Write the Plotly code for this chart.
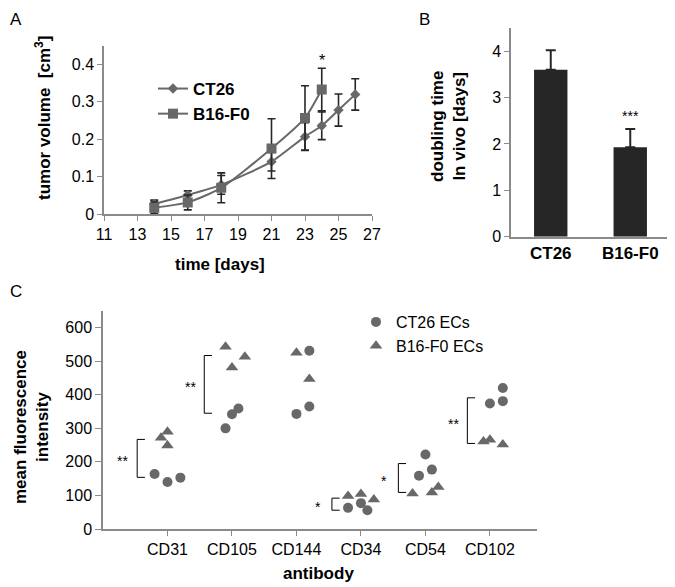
import plotly.graph_objects as go

# ---------------- data ----------------
# Panel A: tumor growth
days_ct26 = [14, 16, 18, 21, 23, 24, 25, 26]
vol_ct26 = [0.027, 0.051, 0.078, 0.14, 0.207, 0.236, 0.278, 0.32]
err_ct26 = [0.010, 0.011, 0.025, 0.025, 0.037, 0.037, 0.043, 0.042]
days_b16 = [14, 16, 18, 21, 23, 24]
vol_b16 = [0.017, 0.031, 0.07, 0.175, 0.257, 0.333]
err_b16 = [0.015, 0.02, 0.04, 0.08, 0.086, 0.057]
a_xticks = [11, 13, 15, 17, 19, 21, 23, 25, 27]
a_yticks = [0, 0.1, 0.2, 0.3, 0.4]
a_yticklabels = ["0", "0.1", "0.2", "0.3", "0.4"]

# Panel B: doubling time
b_groups = ["CT26", "B16-F0"]
b_values = [3.6, 1.93]
b_errors = [0.42, 0.39]
b_yticks = [0, 1, 2, 3, 4]

# Panel C: mean fluorescence intensity
antibodies = ["CD31", "CD105", "CD144", "CD34", "CD54", "CD102"]
ct26_ab = [1, 1, 1, 2, 2, 2, 3, 3, 3, 4, 4, 4, 5, 5, 5, 6, 6, 6]
ct26_jit = [-0.2, 0, 0.2, -0.1, 0, 0.1, 0, 0.2, 0.2, -0.2, 0, 0.1, -0.1, 0, 0.1, 0, 0.2, 0.2]
ct26_mfi = [164, 140, 153, 300, 342, 359, 343, 365, 531, 63, 77, 56, 159, 222, 177, 374, 420, 381]
b16_ab = [1, 1, 1, 2, 2, 2, 3, 3, 4, 4, 4, 5, 5, 5, 6, 6, 6]
b16_jit = [-0.1, 0, 0, -0.1, 0, 0.2, 0, 0.2, -0.2, 0, 0.2, -0.2, 0.1, 0.2, -0.1, 0, 0.2]
b16_mfi = [272, 290, 249, 543, 481, 513, 525, 447, 98, 104, 88, 106, 109, 125, 261, 266, 252]
c_yticks = [0, 100, 200, 300, 400, 500, 600]
# significance brackets: antibody index, low, high, label
sig_ab = [1, 2, 4, 5, 6]
sig_low = [154, 345, 56, 109, 255]
sig_high = [267, 517, 92, 195, 391]
sig_label = ["**", "**", "*", "*", "**"]
sig_xoff = [-0.47, -0.43, -0.45, -0.42, -0.35]

# ---------------- styling ----------------
# the page body adds an 8 px margin, so the figure is 8 px smaller and
# all layout positions below are given in page pixels
BODY = 8
W, H = 675 - BODY, 587 - BODY
FONT = "Liberation Sans, Arial, sans-serif"
GRAY = "#686868"
AXIS = "#8a8a8a"
DARK = "#262626"


def px_x(p):
    return (p - BODY) / W


def px_y(p):
    return 1 - (p - BODY) / H


fig = go.Figure()

# Panel A traces
fig.add_trace(go.Scatter(
    x=days_ct26, y=vol_ct26, mode="lines+markers", name="CT26",
    line=dict(color=GRAY, width=2, shape="spline", smoothing=0.6),
    marker=dict(symbol="diamond", size=8, color=GRAY),
    error_y=dict(type="data", array=err_ct26, color=DARK, thickness=1.6, width=4),
    xaxis="x", yaxis="y", legend="legend"))
fig.add_trace(go.Scatter(
    x=days_b16, y=vol_b16, mode="lines+markers", name="B16-F0",
    line=dict(color=GRAY, width=2, shape="spline", smoothing=0.6),
    marker=dict(symbol="square", size=10, color=GRAY),
    error_y=dict(type="data", array=err_b16, color=DARK, thickness=1.6, width=4),
    xaxis="x", yaxis="y", legend="legend"))

# Panel B
fig.add_trace(go.Bar(
    x=b_groups, y=b_values, marker=dict(color=DARK, line=dict(width=0)),
    width=0.42, showlegend=False,
    error_y=dict(type="data", array=b_errors, arrayminus=[0] * len(b_errors),
                 color=DARK, thickness=2, width=5),
    xaxis="x2", yaxis="y2"))

# Panel C
fig.add_trace(go.Scatter(
    x=[a + j for a, j in zip(ct26_ab, ct26_jit)], y=ct26_mfi, mode="markers",
    name="CT26 ECs", marker=dict(symbol="circle", size=10, color=GRAY),
    xaxis="x3", yaxis="y3", legend="legend2"))
fig.add_trace(go.Scatter(
    x=[a + j for a, j in zip(b16_ab, b16_jit)], y=b16_mfi, mode="markers",
    name="B16-F0 ECs", marker=dict(symbol="triangle-up", size=11, color=GRAY),
    xaxis="x3", yaxis="y3", legend="legend2"))

tickfont = dict(family=FONT, size=16, color="black")
common = dict(showline=True, linecolor=AXIS, linewidth=1.5, ticks="outside",
              tickcolor=AXIS, ticklen=5, tickwidth=1.2, showgrid=False,
              zeroline=False, tickfont=tickfont, fixedrange=True, automargin=False)

shapes = []
annotations = []

# brackets
for a, lo, hi, lab, off in zip(sig_ab, sig_low, sig_high, sig_label, sig_xoff):
    xb = a + off
    tick = 0.12
    shapes.append(dict(type="path", xref="x3", yref="y3",
                       path=f"M {xb + tick} {hi} L {xb} {hi} L {xb} {lo} L {xb + tick} {lo}",
                       line=dict(color="black", width=1)))
    annotations.append(dict(x=xb - 0.22, y=(lo + hi) / 2, xref="x3", yref="y3",
                            text=lab, showarrow=False, xanchor="center", yanchor="middle",
                            yshift=-3, font=dict(family=FONT, size=14, color="black")))

# star annotations on A and B
annotations.append(dict(x=days_b16[-1], y=vol_b16[-1] + err_b16[-1], xref="x", yref="y",
                        text="*", showarrow=False, xanchor="center", yanchor="bottom",
                        yshift=-3, font=dict(family=FONT, size=16, color="black")))
annotations.append(dict(x=b_groups[1], y=b_values[1] + b_errors[1], xref="x2", yref="y2",
                        text="***", showarrow=False, xanchor="center", yanchor="bottom",
                        yshift=3, font=dict(family=FONT, size=14, color="black")))

bold = dict(family=FONT, size=17, color="black")
# axis titles (page pixel centres)
titles = [
    ("<b>tumor volume  [cm<sup>3</sup>]</b>", 43, 118, -90),
    ("<b>time [days]</b>", 220, 265, 0),
    ("<b>doubling time<br>In vivo [days]</b>", 448, 127, -90),
    ("<b>mean fluorescence<br>intensity</b>", 31, 427, -90),
    ("<b>antibody</b>", 318, 573, 0),
]
for txt, x, y, ang in titles:
    annotations.append(dict(x=px_x(x), y=px_y(y), xref="paper", yref="paper",
                            showarrow=False, text=txt, textangle=ang,
                            xanchor="center", yanchor="middle", font=bold))
# panel letters
letter_font = dict(family=FONT, size=17, color="black")
annotations += [
    dict(x=0, y=1, xref="paper", yref="paper", showarrow=False, text="A",
         xanchor="left", yanchor="top", font=letter_font),
    dict(x=px_x(424.5), y=1, xref="paper", yref="paper", showarrow=False, text="B",
         xanchor="center", yanchor="top", font=letter_font),
    dict(x=0, y=px_y(291), xref="paper", yref="paper", showarrow=False, text="C",
         xanchor="left", yanchor="middle", font=letter_font),
]

fig.update_layout(
    template="none",
    width=W, height=H, margin=dict(l=0, r=0, t=0, b=0, autoexpand=False),
    paper_bgcolor="white", plot_bgcolor="white",
    font=dict(family=FONT, color="black"),
    xaxis=dict(domain=[px_x(104), px_x(372)], range=[11, 27], tickvals=a_xticks,
               anchor="y", **common),
    yaxis=dict(domain=[px_y(214), px_y(45.8)], range=[0, 0.45], tickvals=a_yticks,
               ticktext=a_yticklabels, anchor="x", **common),
    xaxis2=dict(domain=[px_x(511), min(1, px_x(670))], range=[-0.5, 1.5], anchor="y2",
                **{**common, "ticks": "",
                   "tickfont": dict(family=FONT, size=17, color="black", weight="bold")}),
    yaxis2=dict(domain=[px_y(236.7), px_y(27.9)], range=[0, 4.5], tickvals=b_yticks,
                anchor="x2", **common),
    xaxis3=dict(domain=[px_x(103), px_x(537)], range=[0, 6.73], anchor="y3",
                tickvals=list(range(1, len(antibodies) + 1)), ticktext=antibodies, **common),
    yaxis3=dict(domain=[px_y(529), px_y(310.9)], range=[0, 650], tickvals=c_yticks,
                anchor="x3", **{**common, "ticklen": 6}),
    legend=dict(x=px_x(153), y=px_y(71), xanchor="left", yanchor="top",
                bgcolor="rgba(0,0,0,0)", tracegroupgap=0, itemwidth=30,
                font=dict(family=FONT, size=17, color="black", weight="bold")),
    legend2=dict(x=px_x(356), y=px_y(305), xanchor="left", yanchor="top",
                 bgcolor="rgba(0,0,0,0)", itemwidth=30,
                 font=dict(family=FONT, size=16, color="black")),
    shapes=shapes, annotations=annotations, showlegend=True,
)

fig.write_html("out.html")
